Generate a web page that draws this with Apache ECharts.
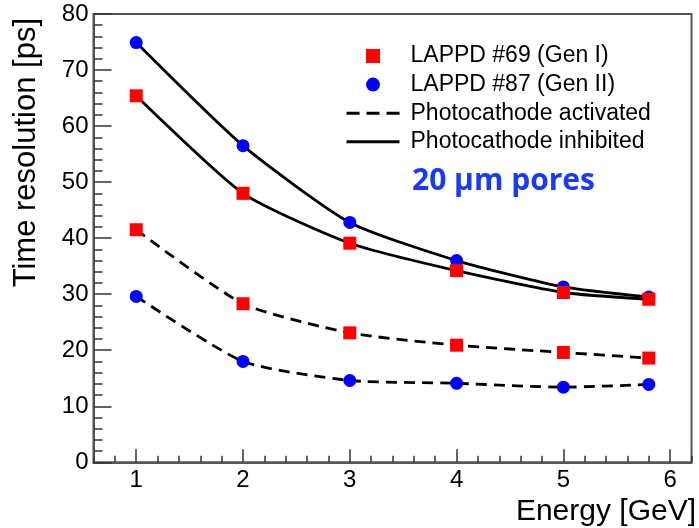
<!DOCTYPE html>
<html>
<head>
<meta charset="utf-8">
<script src="https://cdn.jsdelivr.net/npm/echarts@6/dist/echarts.min.js"></script>
<style>
  html, body { margin: 0; padding: 0; background: #fff; }
  #chart { width: 699px; height: 528px; }
</style>
</head>
<body>
<div id="chart"></div>
<script>
// energy points (GeV)
const energy = [1, 2, 3, 4, 5, 5.8]
// time resolution (ps)
const gen1Inhibited = [65.4, 48.0, 39.1, 34.2, 30.3, 29.1]
const gen1Activated = [41.5, 28.3, 23.1, 20.9, 19.6, 18.6]
const gen2Inhibited = [74.9, 56.5, 42.8, 36.0, 31.3, 29.5]
const gen2Activated = [29.6, 18.0, 14.6, 14.1, 13.4, 13.9]

const xMajorTicks = [1, 2, 3, 4, 5, 6]
const legendNames = ['LAPPD #69 (Gen I)', 'LAPPD #87 (Gen II)', 'Photocathode activated', 'Photocathode inhibited']

const pairs = (ys) => ys.map((y, i) => [energy[i], y])
const font = 'Liberation Sans, Arial, Helvetica, sans-serif'
const axisGray = '#555'

const chart = echarts.init(document.getElementById('chart'), null, { renderer: 'canvas' })

function lineSeries(name, ys, dashed) {
  return {
    name, type: 'line', data: pairs(ys), xAxisIndex: 0,
    smooth: 0.2, symbol: 'none', z: 2,
    lineStyle: { color: '#000', width: 2.8, type: dashed ? [11, 7] : 'solid' },
    itemStyle: { color: '#000' }
  }
}

chart.setOption({
  animation: false,
  grid: { left: 93.5, top: 14, right: 6.5, bottom: 65.7, show: true, borderColor: axisGray, borderWidth: 2 },
  legend: {
    orient: 'vertical', left: 340, top: 38,
    itemWidth: 53, itemHeight: 14, itemGap: 2.6,
    textStyle: { fontFamily: font, fontSize: 23, color: '#000', lineHeight: 26, padding: [0, 0, 0, 6] },
    data: [
      { name: legendNames[0], icon: 'path://M0,0H10V10H0Z' },
      { name: legendNames[1], icon: 'circle' },
      { name: legendNames[2], itemStyle: { opacity: 0 }, lineStyle: { type: [13, 7], width: 3 } },
      { name: legendNames[3], itemStyle: { opacity: 0 }, lineStyle: { width: 3 } }
    ]
  },
  title: {
    text: '20 μm pores', left: 407, top: 161,
    textStyle: { fontFamily: 'Open Sans, sans-serif', fontWeight: 'bold', fontSize: 30, color: '#1a3af5' }
  },
  xAxis: [
    {
      type: 'value', min: 0.6, max: 6.2, interval: 0.2,
      name: 'Energy [GeV]', nameLocation: 'end', nameGap: 4.5, nameMoveOverlap: false,
      nameTextStyle: { fontFamily: font, fontSize: 30, color: '#000', align: 'right', verticalAlign: 'top', lineHeight: 30, padding: [34, 0, 0, 0] },
      axisLine: { show: true, lineStyle: { color: axisGray, width: 2 } },
      axisTick: { show: true, inside: true, length: 6.5, lineStyle: { color: '#333', width: 1.5 } },
      axisLabel: { customValues: xMajorTicks, fontFamily: font, fontSize: 24, color: '#000', margin: 6 },
      splitLine: { show: false }
    },
    {
      type: 'value', min: 0.6, max: 6.2, position: 'bottom',
      axisLine: { show: false },
      axisTick: { show: true, inside: true, length: 13, customValues: xMajorTicks, lineStyle: { color: '#333', width: 1.5 } },
      axisLabel: { show: false },
      splitLine: { show: false }
    }
  ],
  yAxis: {
    type: 'value', min: 0, max: 80, interval: 10,
    name: 'Time resolution [ps]', nameLocation: 'end', nameRotate: 90, nameGap: -4, nameMoveOverlap: false,
    nameTextStyle: { fontFamily: font, fontSize: 31, color: '#000', align: 'right', verticalAlign: 'bottom', lineHeight: 31, padding: [0, 0, 52, 0] },
    axisLine: { show: true, lineStyle: { color: axisGray, width: 2 } },
    axisTick: { show: true, inside: true, length: 18, lineStyle: { color: '#333', width: 1.5 } },
    minorTick: { show: true, splitNumber: 5, length: 9, lineStyle: { color: '#333', width: 1.5 } },
    axisLabel: { fontFamily: font, fontSize: 24, color: '#000', margin: 5 },
    splitLine: { show: false }
  },
  series: [
    lineSeries(legendNames[3], gen2Inhibited, false),
    lineSeries(legendNames[3], gen1Inhibited, false),
    lineSeries(legendNames[2], gen1Activated, true),
    lineSeries(legendNames[2], gen2Activated, true),
    {
      name: legendNames[1], type: 'scatter', symbol: 'circle', symbolSize: 13, z: 3,
      data: pairs(gen2Inhibited).concat(pairs(gen2Activated)),
      itemStyle: { color: '#0000ff', opacity: 1 }
    },
    {
      name: legendNames[0], type: 'scatter', symbol: 'rect', symbolSize: 13, z: 4,
      data: pairs(gen1Inhibited).concat(pairs(gen1Activated)),
      itemStyle: { color: '#ff0000', opacity: 1 }
    }
  ]
})
</script>
</body>
</html>
